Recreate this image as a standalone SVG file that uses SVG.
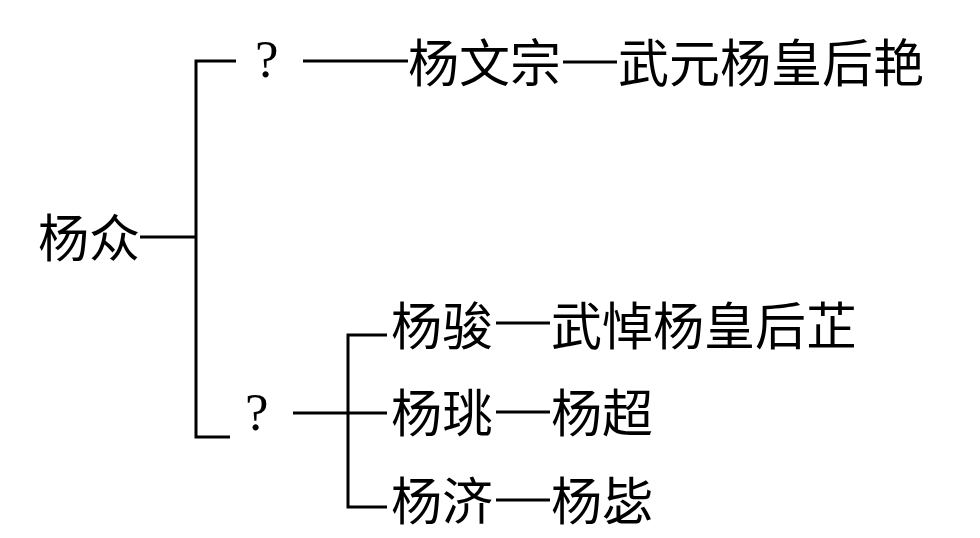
<svg xmlns="http://www.w3.org/2000/svg" width="980" height="538" viewBox="0 0 980 538">
<style>
.t{font-family:"Noto Sans CJK SC","Noto Sans CJK TC",sans-serif;font-size:51px;fill:#000}
.q{font-family:"Liberation Serif",serif;font-size:53px;fill:#000}
.c{stroke:#000;stroke-width:3;fill:none}
</style>
<rect width="980" height="538" fill="#fff"/>
<g id="connectors">
<path class="c" d="M140,237 H196"/>
<path class="c" d="M236,61 H196 V437 H230"/>
<path class="c" d="M303,61 H408"/>
<path class="c" d="M563,62 H617"/>
<path class="c" d="M293,413 H387"/>
<path class="c" d="M387,335 H348 V507 H387"/>
<path class="c" d="M496,323 H550"/>
<path class="c" d="M496,412 H550"/>
<path class="c" d="M496,500 H550"/>
</g>
<g id="n-yangzhong"><text class="t" x="38" y="257">杨众</text></g>
<g id="n-q1"><text class="q" x="255" y="77">?</text></g>
<g id="n-yangwenzong"><text class="t" x="408" y="82">杨文宗</text></g>
<g id="n-wuyuan"><text class="t" x="618" y="82">武元杨皇后艳</text></g>
<g id="n-q2"><text class="q" x="245" y="430">?</text></g>
<g id="n-yangjun"><text class="t" x="391" y="345">杨骏</text></g>
<g id="n-wudao"><text class="t" x="551" y="345">武悼杨皇后芷</text></g>
<g id="n-yangyao"><text class="t" x="391" y="432">杨珧</text></g>
<g id="n-yangchao"><text class="t" x="551" y="432">杨超</text></g>
<g id="n-yangji"><text class="t" x="391" y="520">杨济</text></g>
<g id="n-yangbi"><text class="t" x="551" y="520">杨毖</text></g>
</svg>
